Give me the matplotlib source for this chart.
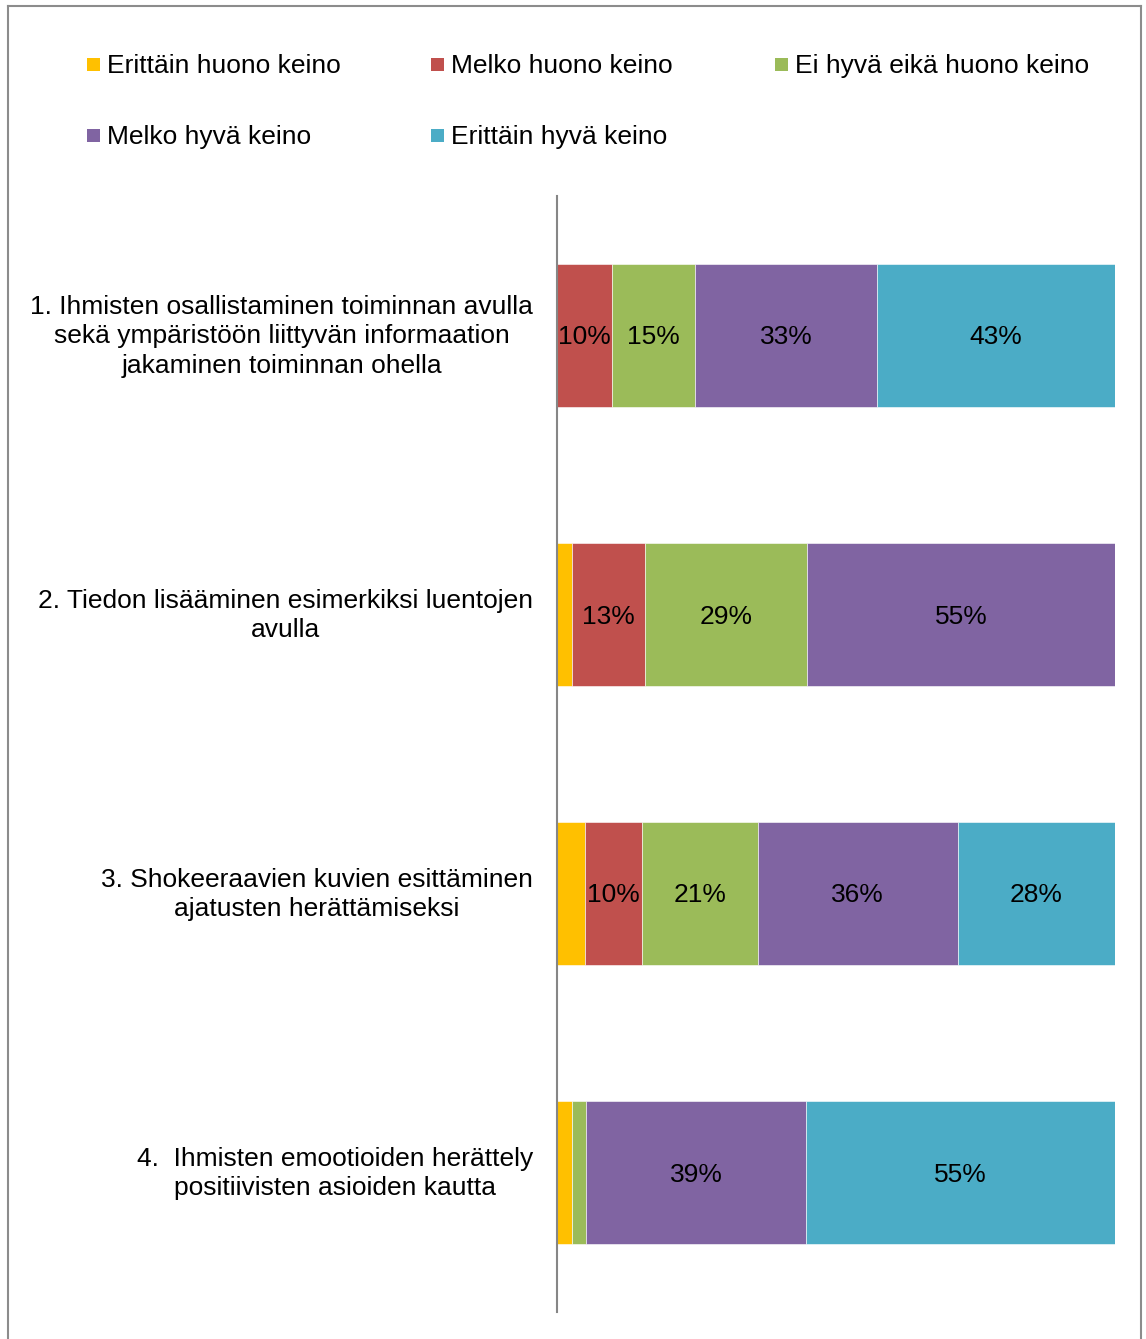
import matplotlib.pyplot as plt
import numpy as np
from matplotlib.patches import Rectangle
from matplotlib.lines import Line2D

plt.rcParams['font.family'] = ['Liberation Sans', 'DejaVu Sans']

categories = [
    '1. Ihmisten osallistaminen toiminnan avulla\nsekä ympäristöön liittyvän informaation\njakaminen toiminnan ohella',
    '2. Tiedon lisääminen esimerkiksi luentojen\navulla',
    '3. Shokeeraavien kuvien esittäminen\najatusten herättämiseksi',
    '4.  Ihmisten emootioiden herättely\npositiivisten asioiden kautta',
]
series = ['Erittäin huono keino', 'Melko huono keino', 'Ei hyvä eikä huono keino',
          'Melko hyvä keino', 'Erittäin hyvä keino']
colors = ['#FFC000', '#C0504D', '#9BBB59', '#8064A2', '#4BACC6']

# percentages per series, one value per category
erittain_huono = [0.0, 2.7, 5.0, 2.7]
melko_huono = [9.8, 13.1, 10.2, 0.0]
ei_hyva_ei_huono = [15.0, 29.0, 20.8, 2.5]
melko_hyva = [32.6, 55.2, 35.8, 39.4]
erittain_hyva = [42.6, 0.0, 28.2, 55.4]
values = [erittain_huono, melko_huono, ei_hyva_ei_huono, melko_hyva, erittain_hyva]

W, H = 1146, 1339
fig = plt.figure(figsize=(W / 100, H / 100), dpi=100)
ax = fig.add_axes([557 / W, 1 - 1312 / H, (1115 - 557) / W, (1312 - 196) / H])

fs = 19
y = np.arange(len(categories))
left = np.zeros(len(categories))
for name, vals, col in zip(series, values, colors):
    vals = np.array(vals)
    ax.barh(y, vals, left=left, height=0.51, color=col, edgecolor='white', linewidth=0.4)
    for yi, l, v in zip(y, left, vals):
        if v >= 8:
            ax.annotate(f'{v:.0f}%', xy=(l + v / 2, yi), xytext=(0, -2), textcoords='offset pixels',
                        ha='center', va='center', fontsize=fs, color='black')
    left += vals

ax.set_xlim(0, 100)
ax.set_ylim(len(categories) - 0.5, -0.5)
ax.set_xticks([])
ax.set_yticks([])
for s in ['top', 'right', 'bottom']:
    ax.spines[s].set_visible(False)
ax.spines['left'].set_color('#868686')
ax.spines['left'].set_linewidth(1.5)

for yi, cat in zip(y, categories):
    ax.annotate(cat, xy=(0, yi), xycoords='data', xytext=(-24, -1), textcoords='offset pixels',
                ha='right', va='center', multialignment='center', fontsize=fs, linespacing=1.3)

# legend laid out like the original, three columns
leg_x = [87, 431, 775]
leg_y = [64, 135]
for i, (name, col) in enumerate(zip(series, colors)):
    cx = leg_x[i % 3]
    cy = leg_y[i // 3]
    fig.patches.append(Rectangle((cx / W, 1 - (cy + 7) / H), 13 / W, 13 / H,
                                 transform=fig.transFigure, facecolor=col, edgecolor='none'))
    fig.text((cx + 20) / W, 1 - (cy + 2) / H, name, ha='left', va='center', fontsize=fs)

# chart frame
frame_col = '#8c8c8c'
fig.add_artist(Line2D([8 / W, 8 / W], [0, 1 - 6 / H], transform=fig.transFigure, color=frame_col, lw=1.5))
fig.add_artist(Line2D([8 / W, 1141 / W], [1 - 6 / H, 1 - 6 / H], transform=fig.transFigure, color=frame_col, lw=1.5))
fig.add_artist(Line2D([1141 / W, 1141 / W], [0, 1 - 6 / H], transform=fig.transFigure, color=frame_col, lw=1.5))

fig.savefig('out.png', dpi=100)
